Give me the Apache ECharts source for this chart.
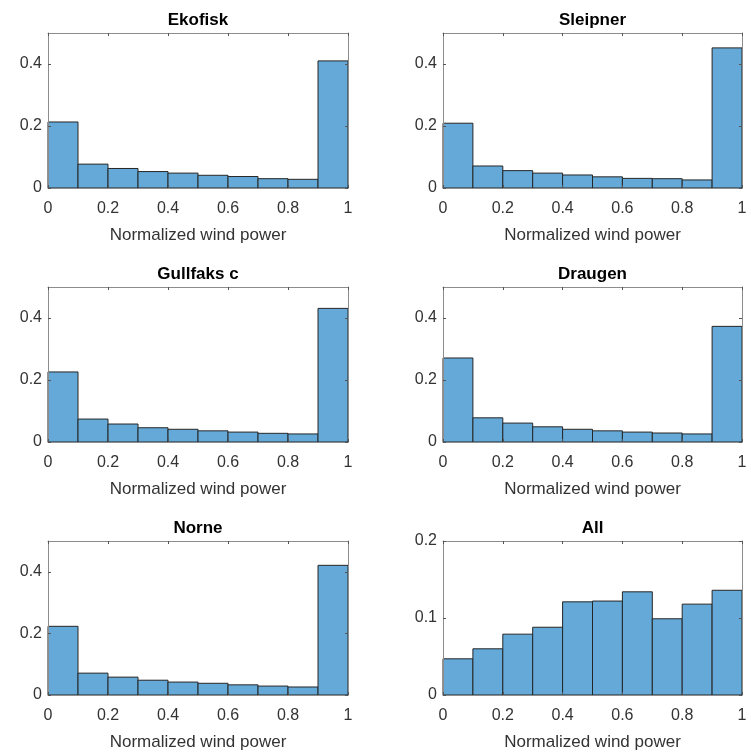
<!DOCTYPE html>
<html>
<head>
<meta charset="utf-8">
<script src="https://cdn.jsdelivr.net/npm/echarts@6/dist/echarts.min.js"></script>
<style>
  html, body { margin: 0; padding: 0; background: #fff; }
  #chart { width: 751px; height: 755px; }
</style>
</head>
<body>
<div id="chart"></div>
<script>
// Histogram bin edges (normalized wind power) and relative frequencies per site
const binEdges = [0, 0.1, 0.2, 0.3, 0.4, 0.5, 0.6, 0.7, 0.8, 0.9, 1.0];
const ekofisk  = [0.213, 0.077, 0.063, 0.053, 0.048, 0.041, 0.037, 0.030, 0.028, 0.410];
const sleipner = [0.209, 0.071, 0.056, 0.048, 0.042, 0.036, 0.031, 0.030, 0.026, 0.452];
const gullfaks = [0.226, 0.074, 0.058, 0.046, 0.041, 0.036, 0.032, 0.028, 0.026, 0.431];
const draugen  = [0.271, 0.078, 0.061, 0.049, 0.041, 0.036, 0.032, 0.029, 0.026, 0.373];
const norne    = [0.223, 0.071, 0.058, 0.048, 0.042, 0.038, 0.033, 0.029, 0.026, 0.421];
const allSites = [0.047, 0.060, 0.079, 0.088, 0.121, 0.122, 0.134, 0.099, 0.118, 0.136];

const titles = ['Ekofisk', 'Sleipner', 'Gullfaks c', 'Draugen', 'Norne', 'All'];
const seriesValues = [ekofisk, sleipner, gullfaks, draugen, norne, allSites];
const xTicks = [0, 0.2, 0.4, 0.6, 0.8, 1];
const yTicksSite = [0, 0.2, 0.4];
const yTicksAll = [0, 0.1, 0.2];
const yMaxSite = 0.5;
const yMaxAll = 0.2;
const xLabel = 'Normalized wind power';

// Panel layout (pixels)
const colLeft = [48, 443];
const colWidth = [300, 299];
const rowTop = [33, 287, 541];
const rowHeight = [155, 155, 154];

const FONT = "'Liberation Sans', Arial, Helvetica, sans-serif";
const BOX = '#8c8c8c';
const TXT = '#333333';
const FILL = '#64a9d7';
const EDGE = '#262626';

const grids = [], xAxes = [], yAxes = [], series = [], titleList = [];

seriesValues.forEach((vals, i) => {
  const col = i % 2, row = Math.floor(i / 2);
  const left = colLeft[col], width = colWidth[col];
  const top = rowTop[row], height = rowHeight[row];
  const isAll = i === 5;
  const yMax = isAll ? yMaxAll : yMaxSite;
  const yTicks = isAll ? yTicksAll : yTicksSite;

  grids.push({ left: left, top: top, width: width, height: height, containLabel: false });

  titleList.push({
    text: titles[i],
    left: left + width / 2,
    top: top - 21,
    padding: 0,
    textAlign: 'center',
    textStyle: { fontFamily: FONT, fontSize: 17, fontWeight: 'bold', color: '#000' }
  });

  const lineStyle = { color: BOX, width: 1 };
  const tickCommon = { show: true, inside: true, length: 3, lineStyle: { color: '#555', width: 1 } };

  // bottom x-axis with labels and name
  xAxes.push({
    type: 'value', gridIndex: i, position: 'bottom', min: 0, max: 1, z: 3,
    axisLine: { show: true, onZero: false, lineStyle: lineStyle },
    axisTick: Object.assign({ customValues: xTicks }, tickCommon),
    axisLabel: {
      customValues: xTicks, margin: 13, fontFamily: FONT, fontSize: 16, color: TXT,
      formatter: v => String(+v.toFixed(1))
    },
    splitLine: { show: false },
    name: xLabel, nameLocation: 'middle', nameGap: 39,
    nameTextStyle: { fontFamily: FONT, fontSize: 17, color: TXT }
  });
  // top x-axis: box edge with ticks only
  xAxes.push({
    type: 'value', gridIndex: i, position: 'top', min: 0, max: 1, z: 3,
    axisLine: { show: true, onZero: false, lineStyle: lineStyle },
    axisTick: Object.assign({ customValues: xTicks }, tickCommon),
    axisLabel: { show: false },
    splitLine: { show: false }
  });
  // left y-axis with labels
  yAxes.push({
    type: 'value', gridIndex: i, position: 'left', min: 0, max: yMax, z: 3,
    axisLine: { show: true, onZero: false, lineStyle: lineStyle },
    axisTick: Object.assign({ customValues: yTicks }, tickCommon),
    axisLabel: {
      customValues: yTicks, margin: 6, fontFamily: FONT, fontSize: 16, color: TXT,
      formatter: v => String(+v.toFixed(1))
    },
    splitLine: { show: false }
  });
  // right y-axis: box edge with ticks only
  yAxes.push({
    type: 'value', gridIndex: i, position: 'right', min: 0, max: yMax, z: 3,
    axisLine: { show: true, onZero: false, lineStyle: lineStyle },
    axisTick: Object.assign({ customValues: yTicks }, tickCommon),
    axisLabel: { show: false },
    splitLine: { show: false }
  });

  const data = vals.map((v, k) => [binEdges[k], binEdges[k + 1], v]);
  series.push({
    type: 'custom',
    xAxisIndex: 2 * i,
    yAxisIndex: 2 * i,
    data: data,
    encode: { x: [0, 1], y: 2 },
    silent: true,
    renderItem: function (params, api) {
      const p0 = api.coord([api.value(0), api.value(2)]);
      const p1 = api.coord([api.value(1), 0]);
      return {
        type: 'rect',
        shape: { x: p0[0], y: p0[1], width: p1[0] - p0[0], height: p1[1] - p0[1] },
        style: { fill: FILL, stroke: EDGE, lineWidth: 1 }
      };
    }
  });
});

const chart = echarts.init(document.getElementById('chart'), null, { renderer: 'canvas' });
chart.setOption({
  backgroundColor: '#ffffff',
  animation: false,
  title: titleList,
  grid: grids,
  xAxis: xAxes,
  yAxis: yAxes,
  series: series
});
</script>
</body>
</html>
